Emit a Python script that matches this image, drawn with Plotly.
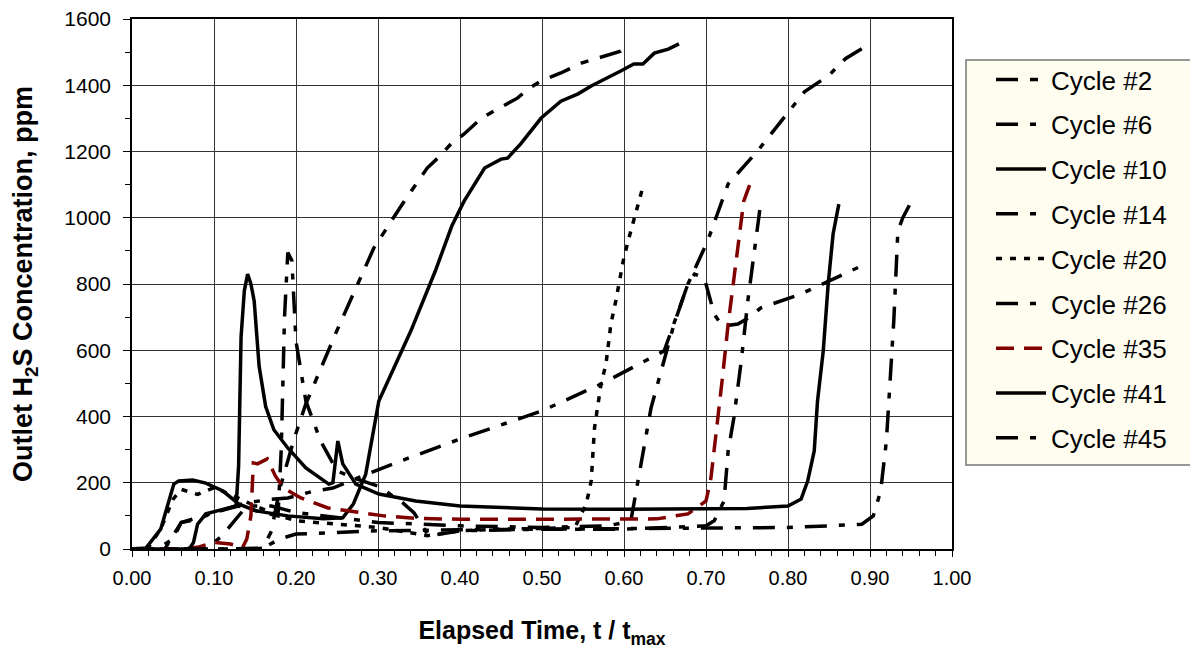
import plotly.graph_objects as go

# ---------------- data ----------------
cycle2_t = [0.0, 0.15, 0.16, 0.17, 0.18, 0.198, 0.212, 0.25, 0.295, 0.332, 0.36, 0.375, 0.389, 0.405,
            0.425, 0.441, 0.47, 0.483, 0.499, 0.523, 0.548, 0.563, 0.596, 0.60]
cycle2_c = [0, 0, 3, 54, 180, 335, 438, 660, 909, 1050, 1150, 1185, 1223, 1253,
            1298, 1322, 1361, 1389, 1413, 1437, 1467, 1479, 1503, 1510]

cycle6_t = [0.0, 0.03, 0.05, 0.06, 0.08, 0.10, 0.12, 0.14, 0.17, 0.19, 0.222, 0.245, 0.287, 0.328,
            0.40, 0.50, 0.572, 0.633, 0.649, 0.678, 0.686, 0.698, 0.71, 0.72, 0.739, 0.751, 0.767,
            0.816, 0.889]
cycle6_c = [0, 0, 30, 80, 95, 110, 125, 140, 150, 154, 175, 184, 226, 266,
            332, 417, 498, 577, 598, 800, 830, 818, 709, 673, 679, 697, 728,
            770, 854]

cycle10_t = [0.0, 0.017, 0.035, 0.051, 0.057, 0.074, 0.09, 0.111, 0.13, 0.151, 0.19, 0.233, 0.257,
             0.27, 0.285, 0.301, 0.34, 0.37, 0.39, 0.405, 0.43, 0.45, 0.458, 0.474, 0.499, 0.523,
             0.544, 0.56, 0.596, 0.612, 0.623, 0.637, 0.654, 0.667]
cycle10_c = [0, 3, 60, 196, 205, 208, 199, 175, 136, 115, 100, 91, 94,
             136, 226, 447, 658, 840, 975, 1050, 1150, 1177, 1180, 1223, 1301, 1352,
             1374, 1398, 1443, 1464, 1464, 1497, 1509, 1525]

cycle14_t = [0.0, 0.09, 0.11, 0.14, 0.17, 0.20, 0.25, 0.30, 0.40, 0.50, 0.58, 0.60, 0.609, 0.633,
             0.661, 0.678, 0.702, 0.727, 0.763, 0.80, 0.82, 0.85, 0.87, 0.89]
cycle14_c = [0, 0, 40, 130, 130, 110, 95, 80, 70, 65, 70, 80, 94, 426,
             679, 800, 930, 1102, 1202, 1320, 1380, 1430, 1480, 1510]

cycle20_t = [0.0, 0.02, 0.035, 0.05, 0.06, 0.08, 0.10, 0.12, 0.15, 0.18, 0.20, 0.25, 0.30, 0.35,
             0.36, 0.40, 0.45, 0.50, 0.54, 0.554, 0.56, 0.564, 0.572, 0.578, 0.584, 0.59, 0.594,
             0.599, 0.605, 0.617, 0.624]
cycle20_c = [0, 5, 60, 150, 180, 165, 185, 165, 130, 100, 85, 75, 65, 45,
             40, 55, 60, 62, 65, 136, 205, 365, 498, 558, 679, 749, 809,
             869, 930, 1041, 1102]

cycle26_t = [0.0, 0.04, 0.06, 0.08, 0.10, 0.13, 0.16, 0.178, 0.182, 0.186, 0.19, 0.195, 0.20, 0.212,
             0.23, 0.25, 0.27, 0.30, 0.33, 0.344, 0.362, 0.40, 0.50, 0.60, 0.70, 0.71, 0.722,
             0.727, 0.734, 0.743, 0.751, 0.759, 0.767]
cycle26_c = [0, 0, 80, 90, 110, 130, 110, 100, 300, 700, 895, 870, 627, 447,
             326, 236, 215, 190, 140, 109, 39, 55, 60, 60, 70, 85, 145,
             296, 396, 568, 749, 900, 1050]

cycle35_t = [0.0, 0.05, 0.08, 0.10, 0.12, 0.135, 0.14, 0.145, 0.148, 0.153, 0.165, 0.175, 0.185,
             0.206, 0.239, 0.267, 0.307, 0.35, 0.40, 0.50, 0.60, 0.64, 0.678, 0.70, 0.706, 0.715,
             0.72, 0.727, 0.733, 0.74, 0.746, 0.755]
cycle35_c = [0, 0, 5, 20, 15, 5, 30, 100, 260, 257, 272, 220, 184,
             154, 124, 115, 100, 92, 90, 90, 90, 91, 106, 145, 214, 396,
             516, 679, 800, 939, 1050, 1111]

cycle41_t = [0.0, 0.07, 0.075, 0.08, 0.09, 0.111, 0.127, 0.13, 0.133, 0.137, 0.141, 0.145, 0.149,
             0.155, 0.163, 0.173, 0.19, 0.212, 0.24, 0.245, 0.251, 0.257, 0.273, 0.301, 0.346,
             0.40, 0.45, 0.50, 0.60, 0.70, 0.75, 0.80, 0.816, 0.824, 0.832, 0.836, 0.843, 0.849,
             0.855, 0.862]
cycle41_c = [0, 0, 20, 75, 106, 121, 130, 250, 640, 780, 830, 800, 749,
             552, 430, 360, 305, 245, 196, 200, 326, 257, 196, 166, 145,
             130, 125, 121, 120, 120, 122, 130, 151, 205, 296, 447, 598, 800,
             951, 1041]

cycle45_t = [0.0, 0.12, 0.16, 0.18, 0.20, 0.25, 0.30, 0.40, 0.50, 0.60, 0.70, 0.80, 0.85, 0.89,
             0.904, 0.913, 0.92, 0.926, 0.929, 0.934, 0.94, 0.954]
cycle45_c = [0, 0, 3, 30, 45, 50, 55, 58, 60, 62, 62, 65, 70, 75,
             100, 175, 326, 553, 688, 960, 1000, 1066]

series = [
    ("Cycle #2", cycle2_t, cycle2_c, "black", "22px,12px,8px,12px"),
    ("Cycle #6", cycle6_t, cycle6_c, "black", "22px,12px,6px,12px"),
    ("Cycle #10", cycle10_t, cycle10_c, "black", "solid"),
    ("Cycle #14", cycle14_t, cycle14_c, "black", "22px,12px,6px,12px"),
    ("Cycle #20", cycle20_t, cycle20_c, "black", "6px,8px"),
    ("Cycle #26", cycle26_t, cycle26_c, "black", "22px,12px,6px,12px"),
    ("Cycle #35", cycle35_t, cycle35_c, "#800000", "18px,10px"),
    ("Cycle #41", cycle41_t, cycle41_c, "black", "solid"),
    ("Cycle #45", cycle45_t, cycle45_c, "black", "22px,12px,6px,12px"),
]

x_ticks = [0.0, 0.1, 0.2, 0.3, 0.4, 0.5, 0.6, 0.7, 0.8, 0.9, 1.0]
y_ticks = [0, 200, 400, 600, 800, 1000, 1200, 1400, 1600]

fig = go.Figure()
for name, t, c, color, dash in series:
    fig.add_trace(go.Scatter(
        x=t, y=c, mode="lines", name=name, legendgroup=name,
        line=dict(color=color, width=3.5, dash=dash),
    ))

# page offset of the figure inside the browser page (body margin)
OFF = 7
W, H = 1198 - OFF, 651 - OFF
# target screen positions of the plot area
SX0, SX1, SY0, SY1 = 131, 951, 18, 548
pw, ph = SX1 - SX0, SY1 - SY0
L, T = SX0 - OFF, SY0 - OFF
R, B = W - L - pw, H - T - ph


def px(sx):
    return (sx - SX0) / pw


def py(sy):
    return (SY1 - sy) / ph


fig.update_layout(
    width=W, height=H,
    margin=dict(l=L, r=R, t=T, b=B, autoexpand=False),
    plot_bgcolor="white", paper_bgcolor="white",
    font=dict(family="Liberation Sans, Arial, sans-serif", color="black"),
    showlegend=True,
    legend=dict(
        x=px(990), y=py(55), xanchor="left", yanchor="top",
        bgcolor="rgba(0,0,0,0)", borderwidth=0,
        font=dict(size=26, family="Liberation Sans, Arial, sans-serif"),
        tracegroupgap=8, itemwidth=50,
    ),
    shapes=[dict(
        type="rect", xref="paper", yref="paper", layer="below",
        x0=px(965), x1=px(1196),
        y0=py(464), y1=py(59),
        fillcolor="#FFFDF0", line=dict(color="#777777", width=1.5),
    )],
)

fig.update_xaxes(
    range=[0, 1], tickvals=x_ticks, tickformat=".2f",
    showgrid=True, gridcolor="#333333", gridwidth=1,
    showline=True, linecolor="black", linewidth=1.5, mirror=True,
    ticks="outside", ticklen=6, tickcolor="black", ticklabelstandoff=4,
    ticklabeloverflow="allow",
    minor=dict(dtick=0.02, ticks="outside", ticklen=5, tickcolor="black", showgrid=False),
    tickfont=dict(size=20, family="Liberation Sans Narrow, Arial Narrow, Liberation Sans, sans-serif"),
    title=dict(text="<b>Elapsed Time, t / t<sub>max</sub></b>",
               font=dict(size=25, family="Liberation Sans Narrow, Arial Narrow, Liberation Sans, sans-serif"),
               standoff=34),
    zeroline=False,
)
fig.update_yaxes(
    range=[0, 1600], tickvals=y_ticks,
    showgrid=True, gridcolor="#333333", gridwidth=1,
    showline=True, linecolor="black", linewidth=1.5, mirror=True,
    ticks="outside", ticklen=7, tickcolor="black", ticklabelstandoff=8,
    ticklabeloverflow="allow",
    minor=dict(dtick=100, ticks="outside", ticklen=5, tickcolor="black", showgrid=False),
    tickfont=dict(size=21),
    title=dict(text="<b>Outlet H<sub>2</sub>S Concentration, ppm</b>", font=dict(size=27), standoff=28),
    zeroline=False,
)

fig.write_html("out.html")
